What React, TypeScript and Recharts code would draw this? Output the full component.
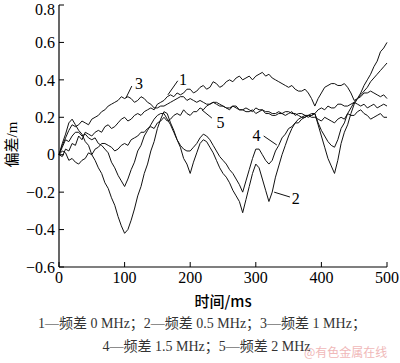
import React from "react";
import { LineChart, Line, XAxis, YAxis, ReferenceLine, ReferenceDot } from "recharts";

const times = [
  0, 5, 10, 15, 20, 25, 30, 35, 40, 45, 50, 55, 60, 65, 70, 75, 80, 85, 90, 95,
  100, 105, 110, 115, 120, 125, 130, 135, 140, 145, 150, 155, 160, 165, 170, 175, 180, 185, 190, 195,
  200, 205, 210, 215, 220, 225, 230, 235, 240, 245, 250, 255, 260, 265, 270, 275, 280, 285, 290, 295,
  300, 305, 310, 315, 320, 325, 330, 335, 340, 345, 350, 355, 360, 365, 370, 375, 380, 385, 390, 395,
  400, 405, 410, 415, 420, 425, 430, 435, 440, 445, 450, 455, 460, 465, 470, 475, 480, 485, 490, 495, 500,
];

// 1 — 0 MHz
const curve1 = [
  0.0, -0.01, 0.03, 0.02, 0.06, 0.05, 0.1, 0.08, 0.12, 0.11, 0.1, 0.12, 0.13, 0.12, 0.15, 0.16, 0.14, 0.15, 0.17, 0.19,
  0.2, 0.18, 0.19, 0.21, 0.22, 0.21, 0.23, 0.24, 0.25, 0.24, 0.27, 0.28, 0.29, 0.31, 0.32, 0.31, 0.33, 0.32, 0.33, 0.35,
  0.35, 0.33, 0.34, 0.36, 0.37, 0.35, 0.36, 0.39, 0.38, 0.36, 0.37, 0.39, 0.4, 0.39, 0.41, 0.42, 0.4, 0.41, 0.42, 0.4,
  0.42, 0.43, 0.44, 0.42, 0.43, 0.41, 0.4, 0.39, 0.38, 0.37, 0.36, 0.37, 0.35, 0.34, 0.34, 0.35, 0.33, 0.3, 0.26, 0.3,
  0.33, 0.36, 0.37, 0.38, 0.38, 0.37, 0.37, 0.38, 0.36, 0.33, 0.29, 0.3, 0.31, 0.33, 0.33, 0.34, 0.33, 0.32, 0.31, 0.32, 0.3,
];

// 2 — 0.5 MHz
const curve2 = [
  0.0, 0.06, 0.11, 0.17, 0.19, 0.16, 0.13, 0.11, 0.07, 0.05, 0.0, -0.03, -0.07, -0.1, -0.15, -0.18, -0.23, -0.27, -0.33, -0.38,
  -0.42, -0.4, -0.35, -0.29, -0.22, -0.17, -0.1, -0.05, 0.02, 0.07, 0.14, 0.19, 0.23, 0.22, 0.17, 0.13, 0.08, 0.04, -0.02, -0.05,
  -0.1, -0.04, 0.01, 0.06, 0.08, 0.07, 0.04, 0.01, -0.03, -0.07, -0.1, -0.12, -0.15, -0.19, -0.22, -0.25, -0.31, -0.24, -0.17, -0.1,
  -0.05, -0.07, -0.13, -0.19, -0.25, -0.2, -0.12, -0.06, 0.0, 0.05, 0.1, 0.14, 0.17, 0.19, 0.2, 0.2, 0.21, 0.22, 0.22, 0.16,
  0.1, 0.04, -0.02, -0.06, -0.1, -0.03, 0.06, 0.12, 0.16, 0.22, 0.27, 0.3, 0.33, 0.37, 0.4, 0.43, 0.47, 0.5, 0.55, 0.57, 0.6,
];

// 3 — 1 MHz
const curve3 = [
  0.0, 0.05, 0.09, 0.13, 0.16, 0.15, 0.16, 0.18, 0.17, 0.16, 0.19, 0.2, 0.21, 0.23, 0.24, 0.26, 0.27, 0.28, 0.29, 0.31,
  0.3, 0.31, 0.3, 0.28, 0.29, 0.31, 0.3, 0.28, 0.27, 0.25, 0.25, 0.26, 0.26, 0.27, 0.28, 0.29, 0.3, 0.31, 0.31, 0.29,
  0.3, 0.29, 0.28, 0.29, 0.28, 0.27, 0.27, 0.28, 0.27, 0.26, 0.26, 0.25, 0.25, 0.26, 0.25, 0.24, 0.24, 0.25, 0.24, 0.23,
  0.25, 0.24, 0.24, 0.23, 0.23, 0.22, 0.22, 0.23, 0.22, 0.21, 0.22, 0.23, 0.21, 0.22, 0.22, 0.21, 0.2, 0.21, 0.22, 0.24,
  0.25, 0.24, 0.26, 0.25, 0.25, 0.27, 0.27, 0.26, 0.26, 0.27, 0.28, 0.27, 0.26, 0.27, 0.25, 0.26, 0.27, 0.25, 0.26, 0.27, 0.26,
];

// 4 — 1.5 MHz
const curve4 = [
  0.0, 0.04, 0.08, 0.07, 0.1, 0.12, 0.12, 0.1, 0.11, 0.09, 0.08, 0.09, 0.06, 0.05, 0.03, 0.01, -0.04, -0.07, -0.11, -0.14,
  -0.17, -0.13, -0.08, -0.04, 0.02, 0.05, 0.1, 0.13, 0.16, 0.19, 0.21, 0.22, 0.22, 0.19, 0.16, 0.12, 0.08, 0.05, 0.03, 0.02,
  0.02, 0.04, 0.06, 0.09, 0.11, 0.1, 0.08, 0.05, 0.02, -0.01, -0.03, -0.05, -0.08, -0.1, -0.13, -0.16, -0.2, -0.14, -0.08, -0.02,
  0.03, 0.03, 0.0, -0.03, -0.05, -0.03, 0.02, 0.05, 0.09, 0.11, 0.14, 0.15, 0.17, 0.17, 0.19, 0.2, 0.21, 0.21, 0.22, 0.17,
  0.13, 0.1, 0.07, 0.05, 0.04, 0.08, 0.14, 0.17, 0.22, 0.25, 0.28, 0.3, 0.32, 0.34, 0.36, 0.39, 0.41, 0.43, 0.45, 0.47, 0.49,
];

// 5 — 2 MHz
const curve5 = [
  0.0, 0.02, 0.01, -0.03, -0.02, -0.04, -0.05, -0.03, -0.02, 0.01, 0.0, 0.03, 0.04, 0.06, 0.06, 0.05, 0.04, 0.02, 0.03, 0.05,
  0.06, 0.05, 0.08, 0.09, 0.1, 0.12, 0.12, 0.14, 0.15, 0.14, 0.17, 0.18, 0.2, 0.18, 0.19, 0.21, 0.22, 0.21, 0.24, 0.22,
  0.21, 0.23, 0.23, 0.25, 0.24, 0.26, 0.27, 0.28, 0.28, 0.27, 0.26, 0.25, 0.24, 0.26, 0.26, 0.24, 0.24, 0.23, 0.23, 0.24,
  0.22, 0.23, 0.24, 0.22, 0.22, 0.21, 0.21, 0.22, 0.22, 0.23, 0.23, 0.22, 0.22, 0.21, 0.2, 0.21, 0.21, 0.2, 0.2, 0.19,
  0.18, 0.2, 0.19, 0.18, 0.17, 0.19, 0.2, 0.19, 0.22, 0.21, 0.21, 0.23, 0.24, 0.22, 0.21, 0.19, 0.2, 0.21, 0.22, 0.2, 0.2,
];

const xTicks = [0, 100, 200, 300, 400, 500];
const yTicks = [-0.6, -0.4, -0.2, 0, 0.2, 0.4, 0.6, 0.8];

// curve labels: text position and leader line, in data units
const labels = [
  { id: "1", tx: 189, ty: 0.405, x1: 181, y1: 0.395, x2: 166, y2: 0.32 },
  { id: "2", tx: 361, ty: -0.232, x1: 352, y1: -0.226, x2: 328, y2: -0.2 },
  { id: "3", tx: 122, ty: 0.383, x1: 111, y1: 0.367, x2: 102, y2: 0.303 },
  { id: "4", tx: 301, ty: 0.105, x1: 312, y1: 0.1, x2: 332, y2: 0.052 },
  { id: "5", tx: 246, ty: 0.172, x1: 233, y1: 0.196, x2: 218, y2: 0.239 },
];

const data = times.map((t, i) => ({
  t,
  c1: curve1[i],
  c2: curve2[i],
  c3: curve3[i],
  c4: curve4[i],
  c5: curve5[i],
}));

const serif = "'Liberation Serif', 'Times New Roman', 'Noto Sans CJK SC', serif";
const fmtY = (v: number) => (v === 0 ? "0" : v.toFixed(1).replace("-", "\u2212"));

export default function App() {
  return (
    <div style={{ position: "absolute", left: 0, top: 0, width: 400, height: 363, background: "#fff", overflow: "hidden" }}>
      <LineChart width={400} height={363} data={data} margin={{ top: 5, right: 13, left: 0, bottom: 66 }}>
        <XAxis
          dataKey="t"
          type="number"
          domain={[0, 500]}
          ticks={xTicks}
          tickSize={-5}
          tickMargin={10}
          height={30}
          axisLine={{ stroke: "#000", strokeWidth: 1.2 }}
          tickLine={{ stroke: "#000" }}
          tick={{ fill: "#000", fontSize: 16, fontFamily: serif }}
        />
        <XAxis
          xAxisId="top"
          orientation="top"
          dataKey="t"
          type="number"
          domain={[0, 500]}
          ticks={xTicks}
          height={0}
          tick={false}
          tickLine={false}
          axisLine={{ stroke: "#000", strokeWidth: 1.2 }}
        />
        <YAxis
          type="number"
          domain={[-0.6, 0.8]}
          ticks={yTicks}
          width={59}
          tickSize={-5}
          tickMargin={9}
          tickFormatter={fmtY}
          axisLine={{ stroke: "#000", strokeWidth: 1.2 }}
          tickLine={{ stroke: "#000" }}
          tick={{ fill: "#000", fontSize: 16, fontFamily: serif }}
        />
        <YAxis
          yAxisId="right"
          orientation="right"
          type="number"
          domain={[-0.6, 0.8]}
          ticks={yTicks}
          width={0}
          tickSize={-5}
          tick={false}
          axisLine={{ stroke: "#000", strokeWidth: 1.2 }}
          tickLine={{ stroke: "#000" }}
        />
        <Line dataKey="c1" stroke="#111" strokeWidth={1} dot={false} isAnimationActive={false} />
        <Line dataKey="c2" stroke="#111" strokeWidth={1} dot={false} isAnimationActive={false} />
        <Line dataKey="c3" stroke="#111" strokeWidth={1} dot={false} isAnimationActive={false} />
        <Line dataKey="c4" stroke="#111" strokeWidth={1} dot={false} isAnimationActive={false} />
        <Line dataKey="c5" stroke="#111" strokeWidth={1} dot={false} isAnimationActive={false} />
        {labels.map((l) => (
          <ReferenceLine
            key={"l" + l.id}
            segment={[
              { x: l.x1, y: l.y1 },
              { x: l.x2, y: l.y2 },
            ]}
            stroke="#111"
            strokeWidth={1}
          />
        ))}
        {labels.map((l) => (
          <ReferenceDot
            key={"d" + l.id}
            x={l.tx}
            y={l.ty}
            r={0.01}
            fill="none"
            stroke="none"
            label={{ value: l.id, position: "center", fill: "#000", fontSize: 16, fontFamily: serif }}
          />
        ))}
      </LineChart>
      <div
        style={{
          position: "absolute",
          left: 0,
          top: 112,
          width: 22,
          height: 64,
          display: "flex",
          alignItems: "center",
          justifyContent: "center",
        }}
      >
        <div style={{ transform: "rotate(-90deg)", whiteSpace: "nowrap", fontSize: 15, fontFamily: serif, color: "#000" }}>
          偏差/m
        </div>
      </div>
      <div
        style={{
          position: "absolute",
          left: 59,
          width: 328,
          top: 290,
          textAlign: "center",
          fontSize: 15,
          fontFamily: "'Noto Sans CJK SC', sans-serif",
          fontWeight: 500,
          color: "#000",
        }}
      >
        时间/ms
      </div>
      <div
        style={{
          position: "absolute",
          left: 0,
          width: 404,
          top: 312,
          textAlign: "center",
          fontSize: 14,
          fontFamily: serif,
          color: "#333",
          whiteSpace: "nowrap",
        }}
      >
        1—频差 0 MHz；2—频差 0.5 MHz；3—频差 1 MHz；
      </div>
      <div
        style={{
          position: "absolute",
          left: 0,
          width: 413,
          top: 335,
          textAlign: "center",
          fontSize: 14,
          fontFamily: serif,
          color: "#333",
          whiteSpace: "nowrap",
        }}
      >
        4—频差 1.5 MHz；5—频差 2 MHz
      </div>
      <div
        style={{
          position: "absolute",
          left: 304,
          top: 345,
          fontSize: 12,
          lineHeight: "14px",
          fontFamily: "'Noto Sans CJK SC', sans-serif",
          color: "#f0b8b8",
          whiteSpace: "nowrap",
        }}
      >
        @有色金属在线
      </div>
    </div>
  );
}
